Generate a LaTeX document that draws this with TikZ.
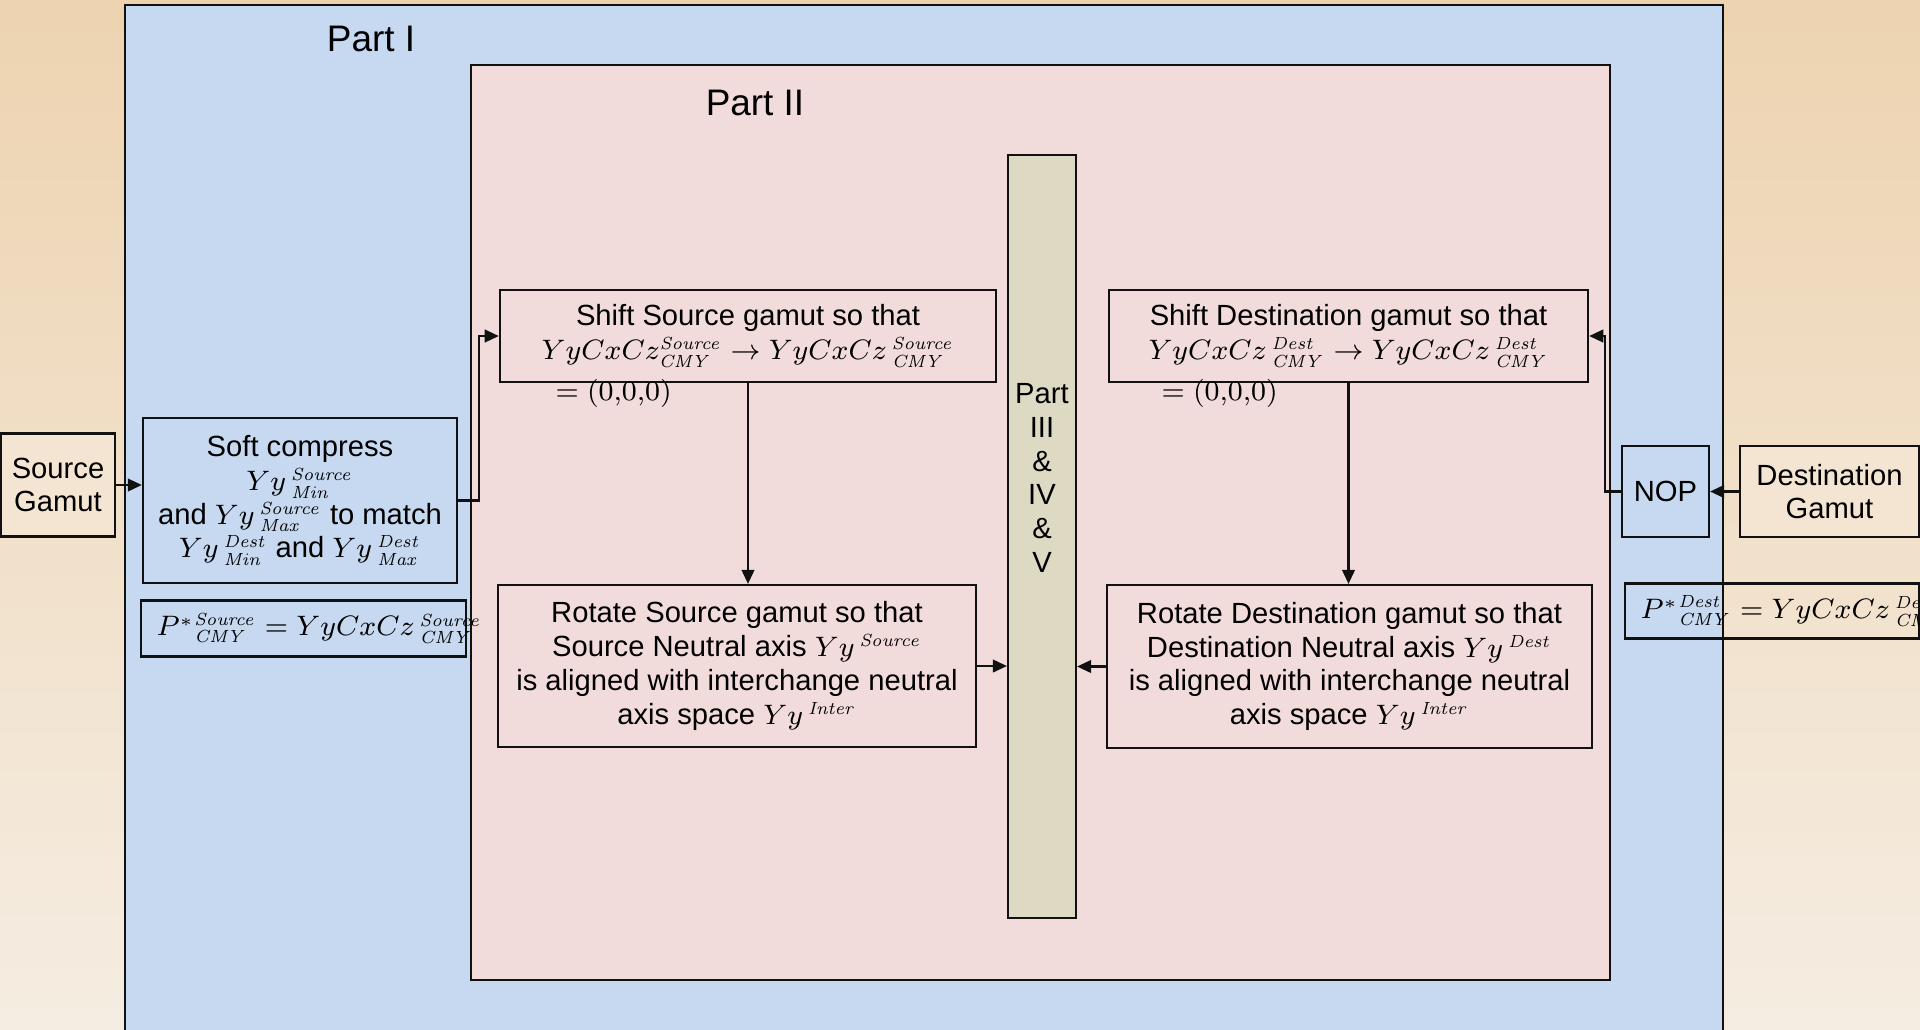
\documentclass[tikz,border=0pt]{standalone}
\usepackage[no-math]{fontspec}
\setmainfont{Liberation Sans}
\usepackage{tikz}
\usetikzlibrary{positioning,arrows.meta}
\definecolor{deskTop}{HTML}{EDD3B0}
\definecolor{deskBot}{HTML}{F5EDE2}
\definecolor{partone}{HTML}{C6D9F0}
\definecolor{parttwo}{HTML}{F2DCDB}
\definecolor{midbar}{HTML}{DDD9C3}
\definecolor{gamutfill}{HTML}{F4E5D2}
\definecolor{ink}{HTML}{111111}
\DeclareMathSizes{8.3}{8.3}{5.4}{4.3}
\newcommand{\bodysize}{\fontsize{8.3}{9.6}\selectfont}
\newcommand{\partsize}{\fontsize{10.5}{12}\selectfont}
\newcommand{\yyvar}[2]{Yy\,^{\mathit{#1}}_{\mathit{#2}}}

\begin{document}
\begin{tikzpicture}[x=0.01cm,y=-0.01cm,
  box/.style={draw=ink,line width=0.6pt,align=center,inner sep=2pt,font=\bodysize},
  loose/.style={inner sep=2.8pt,font=\bodysize},
  flow/.style={draw=ink,line width=0.6pt,-{Triangle[length=4pt,width=3.6pt]}}]
  \useasboundingbox (0,0) rectangle (1920,1029);
  \clip (0,0) rectangle (1920,1029);
  \shade[top color=deskTop,bottom color=deskBot] (0,0) rectangle (1920,1029);

  % nested parts
  \draw[fill=partone,draw=ink,line width=0.7pt] (125,5) rectangle (1723,1045);
  \node[font=\partsize] (partI) at (371,39) {Part I};
  \draw[fill=parttwo,draw=ink,line width=0.7pt] (471,65) rectangle (1610,980);
  \node[font=\partsize] (partII) at (755,103) {Part II};

  % source side
  \node[box,fill=gamutfill,minimum width=1.14cm,minimum height=1.03cm] (srcgamut) at (58,485) {Source\\Gamut};
  \node[box,fill=partone,minimum width=3.14cm,minimum height=1.65cm] (soft) at (300,500.5)
    {Soft compress\\ $\yyvar{Source}{Min}$\\ and $\yyvar{Source}{Max}$ to match\\ $\yyvar{Dest}{Min}$ and $\yyvar{Dest}{Max}$};
  \node[box,minimum width=3.24cm,minimum height=0.56cm] (psrc) at (303.5,628.5) {};
  \node[loose,anchor=west] (psrctext) at (146,628.5)
    {${P^{*}}^{\mathit{Source}}_{\mathit{CMY}} = YyCxCz\,^{\mathit{Source}}_{\mathit{CMY}}$};

  \node[box,fill=parttwo,minimum width=4.96cm,minimum height=0.92cm] (shiftsrc) at (748,336)
    {Shift Source gamut so that\\ $YyCxCz^{\mathit{Source}}_{\mathit{CMY}} \rightarrow YyCxCz\,^{\mathit{Source}}_{\mathit{CMY}}$};
  \node[loose,anchor=west] (zerosrc) at (545,393) {$=(0{,}0{,}0)$};
  \node[box,fill=parttwo,minimum width=4.78cm,minimum height=1.62cm] (rotsrc) at (737,666)
    {Rotate Source gamut so that\\ Source Neutral axis $Yy\,^{\mathit{Source}}$\\ is aligned with interchange neutral\\ axis space $Yy\,^{\mathit{Inter}}$};

  % middle bar
  \node[box,fill=midbar,minimum width=0.68cm,minimum height=7.63cm] (bar) at (1042,536.5) {};
  \node[align=center,font=\bodysize] (bartext) at (1042,478) {Part\\III\\\&\\IV\\\&\\V};

  % destination side
  \node[box,fill=parttwo,minimum width=4.79cm,minimum height=0.92cm] (shiftdst) at (1348.5,336)
    {Shift Destination gamut so that\\ $YyCxCz\,^{\mathit{Dest}}_{\mathit{CMY}} \rightarrow YyCxCz\,^{\mathit{Dest}}_{\mathit{CMY}}$};
  \node[loose,anchor=west] (zerodst) at (1151,393) {$=(0{,}0{,}0)$};
  \node[box,fill=parttwo,minimum width=4.85cm,minimum height=1.63cm] (rotdst) at (1349.5,666.5)
    {Rotate Destination gamut so that\\ Destination Neutral axis $Yy\,^{\mathit{Dest}}$\\ is aligned with interchange neutral\\ axis space $Yy\,^{\mathit{Inter}}$};

  \node[box,fill=partone,minimum width=0.87cm,minimum height=0.91cm] (nop) at (1665.5,491.5) {NOP};
  \node[box,fill=gamutfill,minimum width=1.79cm,minimum height=0.91cm] (dstgamut) at (1829.5,491.5) {Destination\\Gamut};
  \node[box,minimum width=2.94cm,minimum height=0.55cm] (pdst) at (1772,611) {};
  \node[loose,anchor=west] (pdsttext) at (1630,611)
    {${P^{*}}^{\mathit{Dest}}_{\mathit{CMY}} = YyCxCz\,^{\mathit{Dest}}_{\mathit{CMY}}$};

  % connectors
  \draw[flow] (srcgamut.east) -- (srcgamut.east -| soft.west);
  \draw[flow] (soft.east) -- ++(21,0) |- (shiftsrc.west);
  \draw[flow] (shiftsrc.south) -- (shiftsrc.south |- rotsrc.north);
  \draw[flow] (rotsrc.east) -- (rotsrc.east -| bar.west);
  \draw[flow] (shiftdst.south) -- (shiftdst.south |- rotdst.north);
  \draw[flow] (rotdst.west) -- (rotdst.west -| bar.east);
  \draw[flow] (dstgamut.west) -- (nop.east);
  \draw[flow] (nop.west) -- ++(-16,0) |- (shiftdst.east);
\end{tikzpicture}
\end{document}
